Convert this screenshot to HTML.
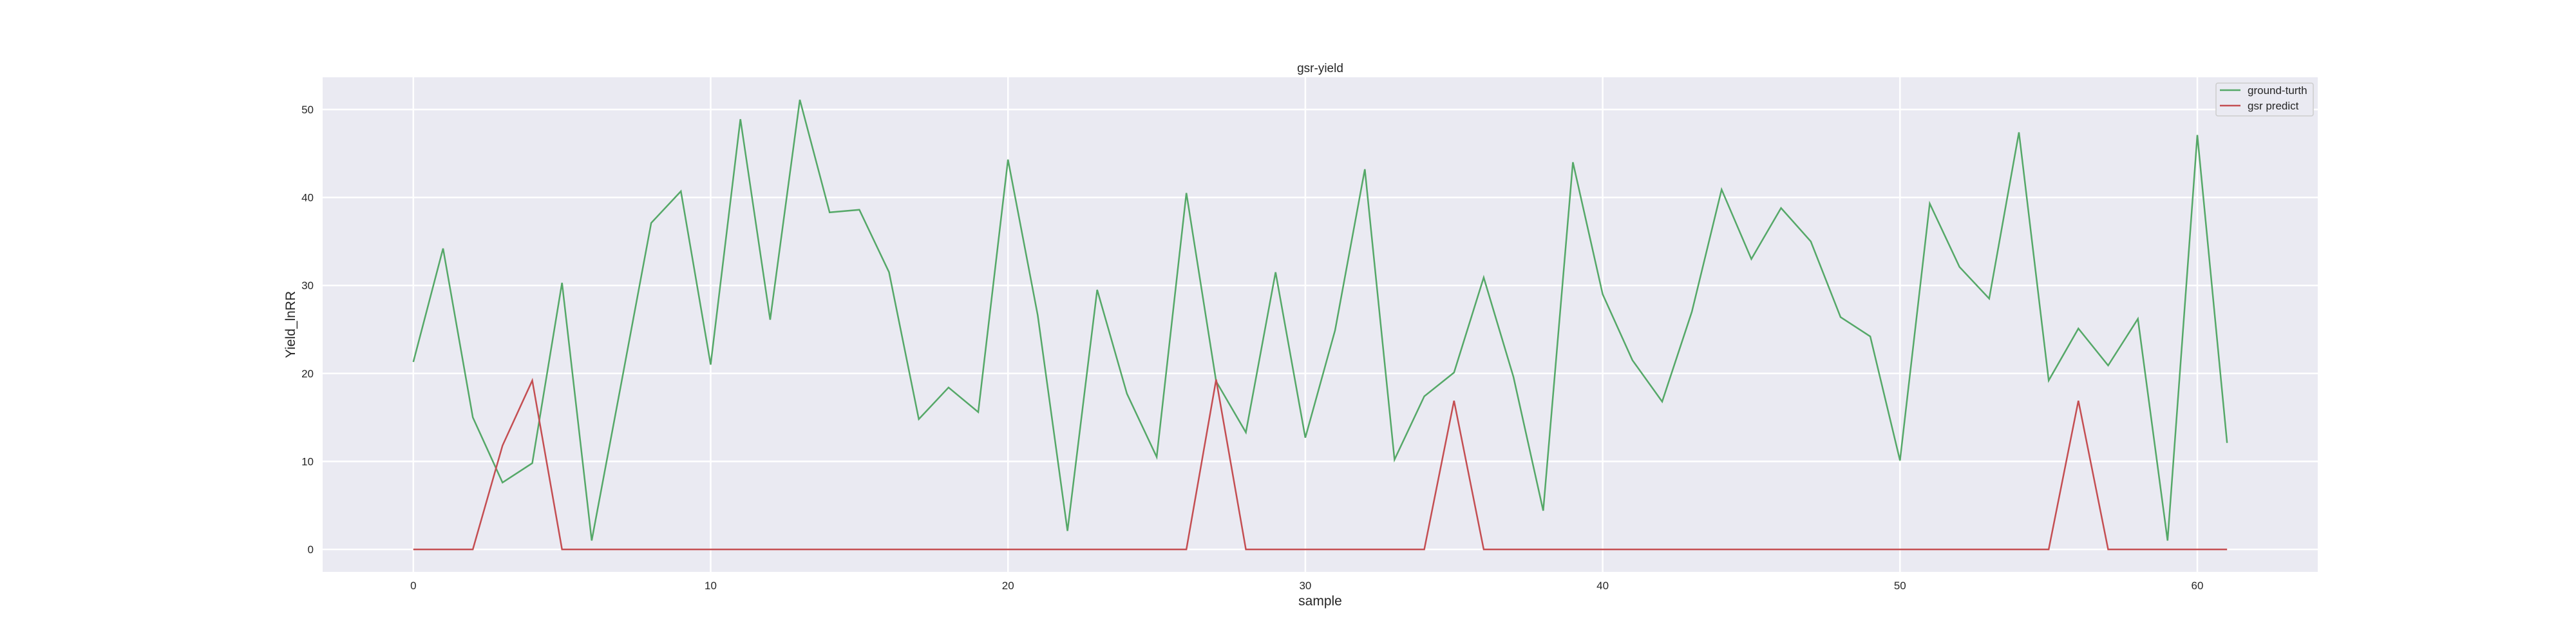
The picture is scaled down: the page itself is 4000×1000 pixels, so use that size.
<!DOCTYPE html>
<html><head><meta charset="utf-8"><style>
html,body{margin:0;padding:0;background:#fff;}
svg{display:block;font-family:"Liberation Sans","Noto Sans CJK SC",sans-serif;}
</style></head><body>
<svg id="chart" width="4000" height="1000" viewBox="0 0 4000 1000" xmlns="http://www.w3.org/2000/svg">
<rect x="501" y="120" width="3098" height="768" fill="#eaeaf2"/>
<g id="grid"></g>
<g id="ticks"></g>
<g id="series"></g>
<text x="2050" y="112" font-size="19" text-anchor="middle" fill="#262626">gsr-yield</text>
<text x="2050" y="940" font-size="21" text-anchor="middle" fill="#262626">sample</text>
<text transform="translate(458,504) rotate(-90)" font-size="21" text-anchor="middle" fill="#262626">Yield_lnRR</text>
<g>
<rect x="3441" y="129" width="151" height="51" rx="3" fill="#eaeaf2" stroke="#cccccc" stroke-width="1.5"/>
<line x1="3447" y1="140" x2="3479" y2="140" stroke="#55a868" stroke-width="2.5"/>
<text x="3490" y="146" font-size="17" fill="#262626">ground-turth</text>
<line x1="3447" y1="164" x2="3479" y2="164" stroke="#c44e52" stroke-width="2.5"/>
<text x="3490" y="170" font-size="17" fill="#262626">gsr predict</text>
</g>
</svg>
<script>
const groundTruth = [21.3,34.2,15.0,7.6,9.8,30.3,1.0,19.0,37.1,40.7,21.0,48.9,26.1,51.1,38.3,38.6,31.5,14.8,18.4,15.6,44.3,26.6,2.1,29.5,17.7,10.5,40.5,19.1,13.3,31.5,12.7,24.9,43.2,10.2,17.4,20.1,30.9,19.6,4.4,44.0,29.0,21.5,16.8,27.0,40.9,33.0,38.8,35.0,26.4,24.2,10.1,39.3,32.1,28.5,47.4,19.2,25.1,20.9,26.2,1.0,47.1,12.1];
const gsrPredict = [0,0,0,11.8,19.2,0,0,0,0,0,0,0,0,0,0,0,0,0,0,0,0,0,0,0,0,0,0,19.3,0,0,0,0,0,0,0,16.9,0,0,0,0,0,0,0,0,0,0,0,0,0,0,0,0,0,0,0,0,16.9,0,0,0,0,0];
const xTicks = [0,10,20,30,40,50,60];
const yTicks = [0,10,20,30,40,50];

const NS = "http://www.w3.org/2000/svg";
const L=501,R=3599,T=120,B=888;
const n = groundTruth.length;
const xmin=-0.05*(n-1), xmax=(n-1)*1.05;
const allV = groundTruth.concat(gsrPredict);
const vmin=Math.min(...allV), vmax=Math.max(...allV), pad=(vmax-vmin)*0.05;
const ymin=vmin-pad, ymax=vmax+pad;
const sx = v => L+(v-xmin)/(xmax-xmin)*(R-L);
const sy = v => B-(v-ymin)/(ymax-ymin)*(B-T);
function mk(tag, attrs, parent){const e=document.createElementNS(NS,tag);for(const k in attrs)e.setAttribute(k,attrs[k]);parent.appendChild(e);return e;}
const grid=document.getElementById('grid'), ticks=document.getElementById('ticks'), series=document.getElementById('series');
xTicks.forEach(t=>{
  const g=mk('line',{x1:sx(t),x2:sx(t),y1:T,y2:B,stroke:'#fff','stroke-width':2.5},grid);
  
  
  const tx=mk('text',{x:sx(t),y:915,'font-size':17,'text-anchor':'middle',fill:'#262626'},ticks);
  tx.textContent=t;
  
  
});
yTicks.forEach(t=>{
  const g=mk('line',{x1:L,x2:R,y1:sy(t),y2:sy(t),stroke:'#fff','stroke-width':2.5},grid);
  
  
  const tx=mk('text',{x:487,y:sy(t)+6,'font-size':17,'text-anchor':'end',fill:'#262626'},ticks);
  tx.textContent=t;
  
  
});
function line(vals,color,name){
  const pts=vals.map((v,i)=>sx(i).toFixed(1)+','+sy(v).toFixed(1)).join(' ');
  const p=mk('polyline',{points:pts,fill:'none',stroke:color,'stroke-width':2.5,'stroke-linejoin':'miter'},series);
  
  
}
line(groundTruth,'#55a868','ground-truth-line');
line(gsrPredict,'#c44e52','gsr-predict-line');
</script>
</body></html>
